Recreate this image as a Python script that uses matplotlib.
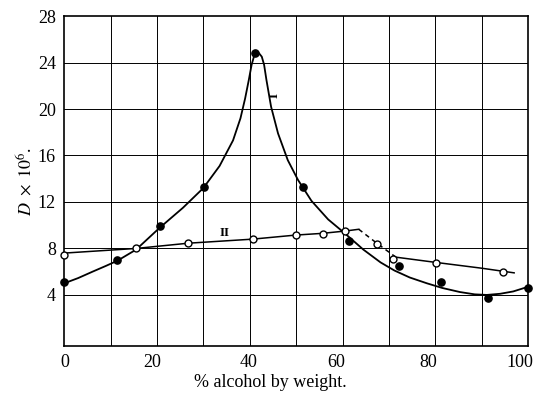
import matplotlib
matplotlib.use("Agg")
import matplotlib.pyplot as plt
import matplotlib.transforms as mtransforms

plt.rcParams['font.family'] = ['Liberation Serif', 'DejaVu Serif']
plt.rcParams['mathtext.fontset'] = 'stix'

# Curve I: measured points (filled circles)
x_pts_1 = [0, 11.4, 20.7, 30.2, 41.2, 51.4, 61.3, 72.1, 81.2, 91.4, 100]
y_pts_1 = [5.1, 7.0, 9.9, 13.3, 24.8, 13.3, 8.6, 6.5, 5.1, 3.7, 4.6]

# Curve I: drawn smooth line
x_line_1 = [0, 3, 6.1, 9, 11.5, 15.5, 20.5, 25.6, 30.0, 33.5, 36.4, 38.0,
            39.0, 39.8, 40.4, 40.9, 41.4, 42.0, 42.6, 43.1, 43.6, 44.6, 46.1,
            48.2, 50.4, 53.3, 56.9, 60.5, 64.5, 68.2, 71.2, 74.5, 78.2, 81.5,
            85.3, 88.5, 91.1, 94.0, 96.8, 100]
y_line_1 = [5.0, 5.45, 6.0, 6.5, 6.95, 7.9, 9.75, 11.5, 13.2, 15.1, 17.3, 19.2,
            20.9, 22.5, 23.8, 24.5, 24.8, 24.8, 24.5, 23.8, 22.5, 20.2, 17.9,
            15.6, 13.9, 12.1, 10.5, 9.3, 7.9, 6.8, 6.1, 5.5, 5.0, 4.6,
            4.25, 4.05, 4.0, 4.1, 4.3, 4.7]

# Curve II: measured points (open circles)
x_pts_2 = [0, 15.5, 26.7, 40.6, 49.9, 55.7, 60.6, 67.4, 70.8, 80.1, 94.6]
y_pts_2 = [7.45, 8.0, 8.5, 8.8, 9.2, 9.25, 9.5, 8.4, 7.1, 6.75, 6.0]

# Curve II: drawn line, solid - dashed - solid
x_line_2a = [0, 15.5, 26.7, 40.6, 49.9, 55.7, 60.6, 63.5]
y_line_2a = [7.6, 8.0, 8.45, 8.8, 9.15, 9.3, 9.5, 9.65]
x_line_2b = [63.5, 67.4, 71.5]
y_line_2b = [9.65, 8.45, 7.25]
x_line_2c = [71.5, 80.1, 90.0, 97.0]
y_line_2c = [7.25, 6.8, 6.3, 5.9]

x_ticks = [0, 20, 40, 60, 80, 100]
y_ticks = [4, 8, 12, 16, 20, 24, 28]

fig = plt.figure(figsize=(5.35, 4.01), dpi=100)
ax = fig.add_axes([0.12, 0.137, 0.867, 0.823])

for gx in range(10, 100, 10):
    ax.axvline(gx, color='black', lw=0.7, zorder=1)
for gy in range(4, 28, 4):
    ax.axhline(gy, color='black', lw=0.7, zorder=1)

ax.plot(x_line_1, y_line_1, color='black', lw=1.3, zorder=2,
        solid_joinstyle='round')
ax.plot(x_line_2a, y_line_2a, color='black', lw=1.1, zorder=2)
ax.plot(x_line_2b, y_line_2b, color='black', lw=1.1, ls=(0, (3, 2.5)), zorder=2)
ax.plot(x_line_2c, y_line_2c, color='black', lw=1.1, zorder=2)

ax.plot(x_pts_1, y_pts_1, 'o', color='black', ms=5.2, zorder=3, clip_on=False)
ax.plot(x_pts_2, y_pts_2, 'o', mfc='white', mec='black', mew=1.0, ms=5,
        zorder=3, clip_on=False)

ax.text(45.3, 21.2, 'I', fontsize=9.5, fontweight='bold', ha='center',
        va='center', rotation=90)
ax.text(34.6, 9.35, 'II', fontsize=9.5, fontweight='bold', ha='center',
        va='center')

ax.set_xlim(0, 100)
ax.set_ylim(-0.4, 28)
ax.set_xticks(x_ticks)
ax.set_yticks(y_ticks)
ax.tick_params(length=0, labelsize=13, pad=6)
for s in ax.spines.values():
    s.set_linewidth(1.2)

# the printed labels sit a little left of their grid lines
shifts = [1, -5, -1, -6, -7, -8]
for lab, dx in zip(ax.get_xticklabels(), shifts):
    lab.set_transform(lab.get_transform() +
                      mtransforms.ScaledTranslation(dx / 100, 0, fig.dpi_scale_trans))

ax.set_xlabel('% alcohol by weight.', fontsize=13, labelpad=4)
ax.xaxis.set_label_coords(0.445, -0.085)
ax.set_ylabel(r'$D\ \times\ 10^6$.', fontsize=13, labelpad=2)

fig.savefig('out.png', dpi=100)
